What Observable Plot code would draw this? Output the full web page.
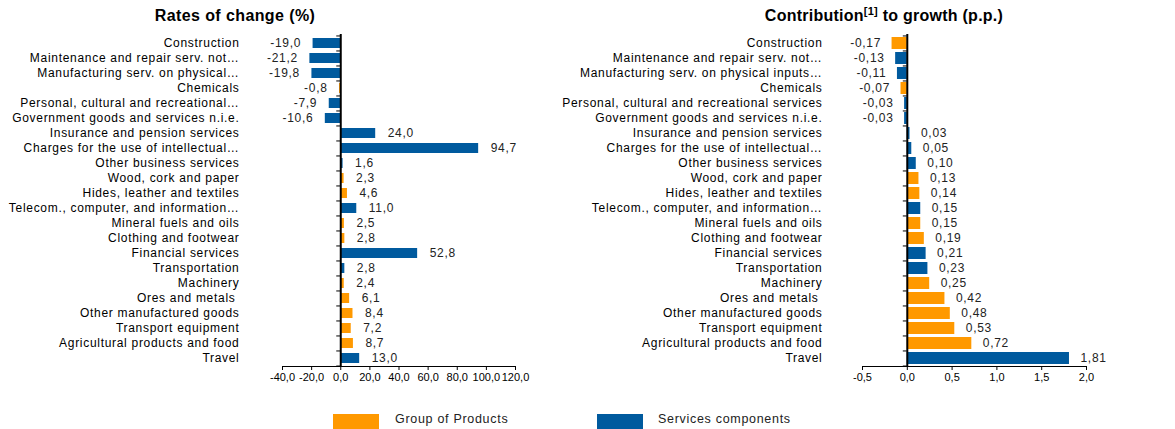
<!DOCTYPE html>
<html><head><meta charset="utf-8">
<script src="https://cdn.jsdelivr.net/npm/d3@7"></script>
<script src="https://cdn.jsdelivr.net/npm/@observablehq/plot@0.6"></script>
<style>
body{margin:0;background:#fff;font-family:"Liberation Sans",Arial,sans-serif;}
#root{position:relative;width:1175px;height:429px;overflow:hidden;}
.chart{position:absolute;top:0;}
.chart svg{overflow:visible;letter-spacing:0.7px;}
.chart svg g[aria-label^="x-axis"]{letter-spacing:0;font-size:11px;}
.title{position:absolute;top:7px;font-weight:bold;font-size:16px;letter-spacing:0.4px;color:#000;transform:translateX(-50%);white-space:nowrap;}
.title.r{letter-spacing:0.25px;}
.title sup{font-size:11px;vertical-align:0;position:relative;top:-6px;}
.leg{position:absolute;top:414px;height:15px;width:46px;}
.legt{position:absolute;top:412px;font-size:12.5px;letter-spacing:0.7px;color:#222;white-space:nowrap;}
</style></head><body><div id="root"></div>
<script>
const leftLabels = ["Construction","Maintenance and repair serv. not…","Manufacturing serv. on physical…","Chemicals","Personal, cultural and recreational…","Government goods and services n.i.e.","Insurance and pension services","Charges for the use of intellectual…","Other business services","Wood, cork and paper","Hides, leather and textiles","Telecom., computer, and information…","Mineral fuels and oils","Clothing and footwear","Financial services","Transportation","Machinery","Ores and metals\u00a0","Other manufactured goods","Transport equipment","Agricultural products and food","Travel"];
const rightLabels = ["Construction","Maintenance and repair serv. not…","Manufacturing serv. on physical inputs…","Chemicals","Personal, cultural and recreational services","Government goods and services n.i.e.","Insurance and pension services","Charges for the use of intellectual…","Other business services","Wood, cork and paper","Hides, leather and textiles","Telecom., computer, and information…","Mineral fuels and oils","Clothing and footwear","Financial services","Transportation","Machinery","Ores and metals\u00a0","Other manufactured goods","Transport equipment","Agricultural products and food","Travel"];
const rateValues = [-19.0,-21.2,-19.8,-0.8,-7.9,-10.6,24.0,94.7,1.6,2.3,4.6,11.0,2.5,2.8,52.8,2.8,2.4,6.1,8.4,7.2,8.7,13.0];
const contribValues = [-0.17,-0.13,-0.11,-0.07,-0.03,-0.03,0.03,0.05,0.10,0.13,0.14,0.15,0.15,0.19,0.21,0.23,0.25,0.42,0.48,0.53,0.72,1.81];
const G = "Group of Products", S = "Services components";
const rateGroups = [S,S,S,G,S,S,S,S,S,G,G,S,G,G,S,S,G,G,G,G,G,S];
const contribGroups = [G,S,S,G,S,S,S,S,S,G,G,S,G,G,S,S,G,G,G,G,G,S];
const groupNames = [G, S];
const rateTicks = [-40,-20,0,20,40,60,80,100,120];
const contribTicks = [-0.5,0,0.5,1.0,1.5,2.0];
const ORANGE = "#FF9900", BLUE = "#005A9E";

const root = document.getElementById("root");
const fmt = (d, n) => d.toFixed(n).replace(".", ",");

function makeChart({labels, values, groups, ticks, left, width, marginLeft, marginRight, digits, padInner, tickPad, gap}) {
  const rows = labels.map((l, i) => ({label: l, value: values[i], group: groups[i]}));
  const height = 392, marginTop = 34, marginBottom = 26;
  const domain = [ticks[0], ticks[ticks.length - 1]];
  const pxPerUnit = (width - marginLeft - marginRight) / (domain[1] - domain[0]);
  const step = (height - marginTop - marginBottom) / labels.length;
  const tickLen = 4 / pxPerUnit;
  const chart = Plot.plot({
    width, height, marginLeft, marginRight, marginTop, marginBottom,
    style: {fontFamily: "'Liberation Sans', Arial, sans-serif", fontSize: "12px", color: "#000", background: "transparent", overflow: "visible"},
    x: {domain, ticks, tickFormat: d => fmt(d, 1), tickSize: 4, tickPadding: 3, label: null, line: true},
    y: {domain: labels, paddingInner: padInner, paddingOuter: padInner / 2, tickSize: 0, tickPadding: tickPad, label: null},
    color: {domain: groupNames, range: [ORANGE, BLUE]},
    marks: [
      Plot.barX(rows, {x: "value", y: "label", fill: "group"}),
      Plot.ruleX([0], {stroke: "#000", strokeWidth: 2}),
      Plot.ruleY(labels, {y: d => d, x1: -tickLen, x2: 0, dy: -step / 2, stroke: "#000"}),
      Plot.ruleY([labels[labels.length - 1]], {y: d => d, x1: -tickLen, x2: 0, dy: step / 2, stroke: "#000"}),
      Plot.text(rows.filter(d => d.value < 0), {x: "value", y: "label", text: d => fmt(d.value, digits), textAnchor: "end", dx: -gap, fill: "#222"}),
      Plot.text(rows.filter(d => d.value >= 0), {x: "value", y: "label", text: d => fmt(d.value, digits), textAnchor: "start", dx: gap, fill: "#222"})
    ]
  });
  const wrap = document.createElement("div");
  wrap.className = "chart";
  wrap.style.left = left + "px";
  wrap.appendChild(chart);
  root.appendChild(wrap);
}

makeChart({labels: leftLabels, values: rateValues, groups: rateGroups, ticks: rateTicks, left: 0, width: 580, marginLeft: 282, marginRight: 65, digits: 1, padInner: 0.34, tickPad: 43, gap: 12});
makeChart({labels: rightLabels, values: contribValues, groups: contribGroups, ticks: contribTicks, left: 540, width: 635, marginLeft: 322, marginRight: 89, digits: 2, padInner: 0.22, tickPad: 40, gap: 11});

function addEl(cls, html, x) {
  const e = document.createElement("div");
  e.className = cls; e.innerHTML = html; e.style.left = x + "px";
  root.appendChild(e);
  return e;
}
addEl("title", "Rates of change (%)", 235);
addEl("title r", "Contribution<sup>[1]</sup> to growth (p.p.)", 884);
addEl("leg", "", 333).style.background = ORANGE;
addEl("legt", groupNames[0], 395);
addEl("leg", "", 597).style.background = BLUE;
addEl("legt", groupNames[1], 658);
</script></body></html>
